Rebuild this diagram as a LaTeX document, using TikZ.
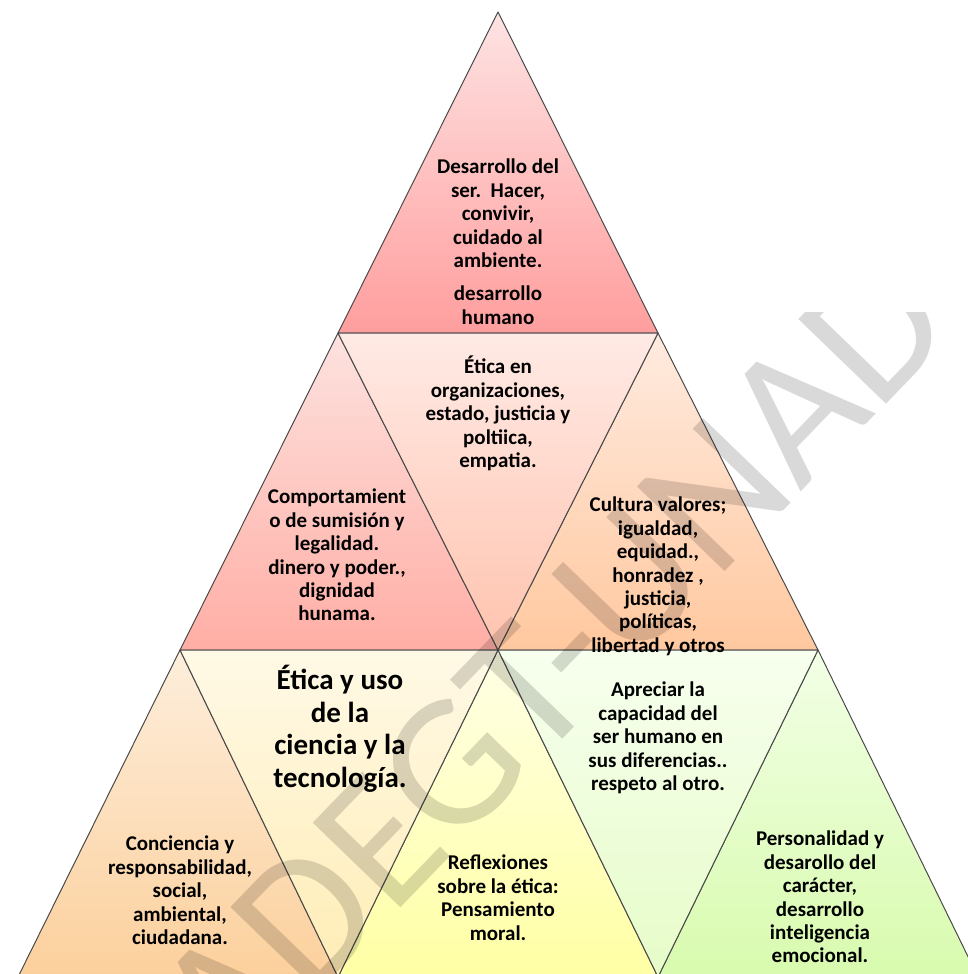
\documentclass[tikz,border=0pt]{standalone}
\usepackage{fontspec}
\setmainfont{Carlito}
\definecolor{edgegray}{HTML}{4A4A4A}
\definecolor{tAtop}{HTML}{FEE3E3}\definecolor{tAbot}{HTML}{FF9E9E}
\definecolor{mLtop}{HTML}{FDE2DF}\definecolor{mLbot}{HTML}{FFAEA5}
\definecolor{mItop}{HTML}{FFEAE5}\definecolor{mIbot}{HTML}{FFC3AE}
\definecolor{mRtop}{HTML}{FFEBE0}\definecolor{mRbot}{HTML}{FFC89F}
\definecolor{bLtop}{HTML}{FDEEDC}\definecolor{bLbot}{HTML}{FCD09C}
\definecolor{bItop}{HTML}{FFF9E6}\definecolor{bIbot}{HTML}{FFEDB5}
\definecolor{bMtop}{HTML}{FFFFE6}\definecolor{bMbot}{HTML}{FFFFA4}
\definecolor{bJtop}{HTML}{F7FFEE}\definecolor{bJbot}{HTML}{E6FCC8}
\definecolor{bRtop}{HTML}{F2FFE6}\definecolor{bRbot}{HTML}{D8FBAE}
\begin{document}
\begin{tikzpicture}[x=1pt,y=-1pt,
  tri/.style={draw=edgegray, line width=1pt, line join=round},
  lbl/.style={align=center, inner sep=0pt, anchor=north, text=black,
    font=\bfseries\fontsize{21}{23.4}\selectfont},
  biglbl/.style={align=center, inner sep=0pt, anchor=north, text=black,
    font=\bfseries\fontsize{29}{32.5}\selectfont},
  wm/.style={inner sep=0pt, rotate=46, text=black, text opacity=0.15,
    font=\fontsize{190}{190}\selectfont}]
\useasboundingbox (0,0) rectangle (968,974);
\clip (0,0) rectangle (968,974);
\fill[white] (0,0) rectangle (968,974);
% lattice points
\coordinate (P0) at (498,12);
\coordinate (L1) at (338,333);
\coordinate (R1) at (658,333);
\coordinate (A2) at (180,650);
\coordinate (B2) at (498,650);
\coordinate (C2) at (818,650);
\coordinate (A3) at (18,977);
\coordinate (B3) at (338,977);
\coordinate (C3) at (658,977);
\coordinate (D3) at (978,977);
% triangles
\draw[tri, top color=tAtop, bottom color=tAbot] (P0) -- (L1) -- (R1) -- cycle;
\draw[tri, top color=mLtop, bottom color=mLbot] (L1) -- (A2) -- (B2) -- cycle;
\draw[tri, top color=mRtop, bottom color=mRbot] (R1) -- (B2) -- (C2) -- cycle;
\draw[tri, top color=mItop, bottom color=mIbot] (L1) -- (R1) -- (B2) -- cycle;
\draw[tri, top color=bLtop, bottom color=bLbot] (A2) -- (A3) -- (B3) -- cycle;
\draw[tri, top color=bMtop, bottom color=bMbot] (B2) -- (B3) -- (C3) -- cycle;
\draw[tri, top color=bRtop, bottom color=bRbot] (C2) -- (C3) -- (D3) -- cycle;
\draw[tri, top color=bItop, bottom color=bIbot] (A2) -- (B2) -- (B3) -- cycle;
\draw[tri, top color=bJtop, bottom color=bJbot] (B2) -- (C2) -- (C3) -- cycle;
% texts
\node[lbl] (ttop) at (498,159) {Desarrollo del\\ser.\ \ Hacer,\\convivir,\\cuidado al\\ambiente.\\[10pt]desarrollo\\humano};
\node[lbl] (tml) at (337,489) {Comportamient\\o de sumisión y\\legalidad.\\dinero y poder.,\\dignidad\\hunama.};
\node[lbl] (tmi) at (498,356) {Ética en\\organizaciones,\\estado, justicia y\\poltiica,\\empatia.};
\node[lbl] (tmr) at (658,497) {Cultura valores;\\igualdad,\\equidad.,\\honradez ,\\justicia,\\políticas,\\libertad y otros};
\node[lbl] (tbl) at (180,836) {Conciencia y\\responsabilidad,\\social,\\ambiental,\\ciudadana.};
\node[biglbl] (tbi) at (340,665) {Ética y uso\\de la\\ciencia y la\\tecnología.};
\node[lbl] (tbm) at (498,855) {Reflexiones\\sobre la ética:\\Pensamiento\\moral.};
\node[lbl] (tbj) at (658,682) {Apreciar la\\capacidad del\\ser humano en\\sus diferencias..\\respeto al otro.};
\node[lbl] (tbr) at (820,831) {Personalidad y\\desarollo del\\carácter,\\desarrollo\\inteligencia\\emocional.};
% watermark
\begin{scope}
\clip (0,312) rectangle (950,974);
\node[wm] (mark) at (467,751) {UNADEGT-UNAD};
\end{scope}
\end{tikzpicture}
\end{document}
